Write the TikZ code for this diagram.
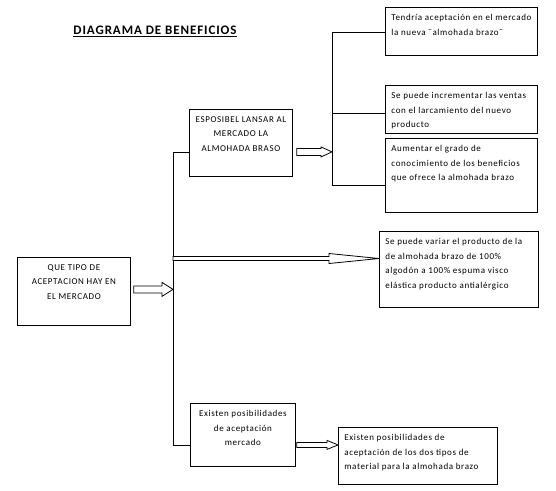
\documentclass[tikz,border=0pt]{standalone}
\usepackage{fontspec}
\setmainfont{Carlito}[LetterSpace=7]
\usetikzlibrary{calc}
\tikzset{
  caja/.style={draw, line width=0.8pt, anchor=north west, inner sep=0pt},
  conector/.style={line width=0.8pt},
  flecha/.style={line width=0.8pt, fill=white}
}
% texto de caja: ancho, alto, alineacion, texto
\newcommand{\textocaja}[4]{\parbox[t][#2][t]{#1}{\vspace{7pt}\fontsize{9}{14.5}\selectfont#3#4}}
% flecha hueca: desde, hasta, medio cuerpo, media punta, largo punta
\newcommand{\flechahueca}[5]{%
  \draw[flecha] let \p1=(#1), \p2=(#2) in
    (\x1,\y1+#3) -- (\x2-#5,\y1+#3) -- (\x2-#5,\y1+#4) -- (\x2,\y1)
    -- (\x2-#5,\y1-#4) -- (\x2-#5,\y1-#3) -- (\x1,\y1-#3) -- cycle;}

\begin{document}
\begin{tikzpicture}[x=1pt,y=-1pt]
  \useasboundingbox (0,0) rectangle (556,490);
  \node[anchor=center, font=\fontsize{13}{15}\selectfont\bfseries] (titulo) at (155,31) {\underline{DIAGRAMA DE BENEFICIOS}};

  \node[caja] (pregunta) at (17,257) {\textocaja{113pt}{68pt}{\centering}{QUE TIPO DE\\ACEPTACION HAY EN\\EL MERCADO}};
  \node[caja] (esposible) at (189,109) {\textocaja{103pt}{67pt}{\centering}{ESPOSIBEL LANSAR AL\\MERCADO LA\\ALMOHADA BRASO}};
  \node[caja] (existen) at (190,403) {\textocaja{105pt}{63pt}{\centering}{Existen posibilidades\\de aceptación\\mercado}};

  \node[caja] (tendria) at (385,7) {\hspace{6pt}\textocaja{146pt}{48pt}{\raggedright}{Tendría aceptación en el mercado\\la nueva ¨almohada brazo¨}};
  \node[caja] (ventas) at (385,85) {\hspace{6pt}\textocaja{146pt}{48pt}{\raggedright}{Se puede incrementar las ventas\\con el larcamiento del nuevo\\producto}};
  \node[caja] (aumentar) at (385,138) {\hspace{6pt}\textocaja{146pt}{74pt}{\raggedright}{Aumentar el grado de\\conocimiento de los beneficios\\que ofrece la almohada brazo}};
  \node[caja] (variar) at (379,231) {\hspace{6pt}\textocaja{153pt}{76pt}{\raggedright}{Se puede variar el producto de la\\de almohada brazo de 100\%\\algodón a 100\% espuma visco\\elástica producto antialérgico}};
  \node[caja] (tipos) at (338,427) {\hspace{6pt}\textocaja{153pt}{57pt}{\raggedright}{Existen posibilidades de\\aceptación de los dos tipos de\\material para la almohada brazo}};

  % troncos
  \coordinate (t1top) at (173,152);
  \coordinate (t1bot) at (173,445);
  \coordinate (t1var) at (173,258.5);
  \coordinate (t2top) at (332,32);
  \coordinate (t2mid) at (332,113);
  \coordinate (t2bot) at (332,185);

  \draw[conector] (t1top) -- (t1bot);
  \draw[conector] (t1top) -- (t1top -| esposible.west);
  \draw[conector] (t1bot) -- (t1bot -| existen.west);
  \draw[conector] (t2top) -- (t2bot);
  \draw[conector] (t2top) -- (t2top -| tendria.west);
  \draw[conector] (t2mid) -- (t2mid -| ventas.west);
  \draw[conector] (t2bot) -- (t2bot -| aumentar.west);

  % flechas
  \flechahueca{$(pregunta.east)+(3,-2)$}{t1var}{3.5pt}{7pt}{11pt}
  \flechahueca{$(esposible.east)+(4,9)$}{t2mid}{3.5pt}{5pt}{11pt}
  \flechahueca{t1var}{variar.west}{2pt}{5pt}{50pt}
  \flechahueca{$(existen.east)+(1,10)$}{tipos.west}{2.5pt}{4.5pt}{11pt}
\end{tikzpicture}
\end{document}
